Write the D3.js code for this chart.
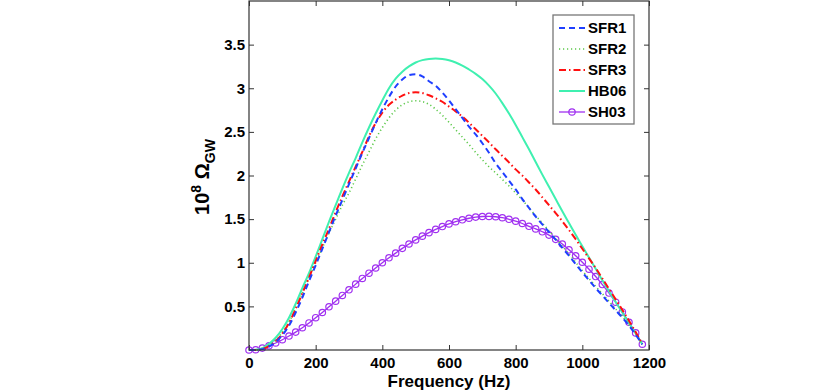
<!DOCTYPE html>
<html><head><meta charset="utf-8">
<script src="https://cdn.jsdelivr.net/npm/d3@7/dist/d3.min.js"></script>
<style>
html,body{margin:0;padding:0;background:#fff;}
svg{display:block;}
text{font-family:"Liberation Sans",Arial,Helvetica,sans-serif;font-weight:bold;}
</style></head>
<body><svg id="c" width="830" height="390"></svg>
<script>
// ---- data ----
const freq = [0,20,40,60,80,100,120,140,160,180,200,220,240,260,280,300,320,340,360,380,400,420,440,460,480,500,520,540,560,580,600,620,640,660,680,700,720,740,760,780,800,820,840,860,880,900,920,940,960,980,1000,1020,1040,1060,1080,1100,1120,1140,1160,1180];
const sfr1 = [0,0.001,0.01,0.04,0.09,0.17,0.28,0.43,0.6,0.79,0.97,1.16,1.35,1.54,1.72,1.9,2.08,2.26,2.43,2.6,2.76,2.9,3.02,3.1,3.15,3.16,3.135,3.08,3.03,2.95,2.86,2.76,2.66,2.56,2.47,2.37,2.26,2.14,2.04,1.94,1.84,1.73,1.63,1.53,1.44,1.35,1.265,1.17,1.08,0.985,0.89,0.8,0.71,0.625,0.54,0.455,0.37,0.28,0.175,0.065];
const sfr2 = [0,0.001,0.013,0.05,0.11,0.2,0.32,0.48,0.65,0.83,1.0,1.17,1.34,1.5,1.66,1.8,1.96,2.12,2.27,2.42,2.55,2.66,2.75,2.81,2.845,2.856,2.847,2.815,2.76,2.69,2.61,2.525,2.44,2.355,2.265,2.18,2.1,2.03,1.955,1.88,1.8,1.72,1.63,1.54,1.455,1.365,1.28,1.19,1.1,1.005,0.91,0.82,0.73,0.645,0.56,0.47,0.385,0.29,0.185,0.07];
const sfr3 = [0,0.001,0.012,0.045,0.1,0.19,0.31,0.47,0.65,0.83,1.02,1.21,1.39,1.58,1.76,1.93,2.1,2.27,2.45,2.6,2.72,2.81,2.87,2.915,2.945,2.955,2.945,2.92,2.885,2.845,2.79,2.735,2.675,2.605,2.53,2.455,2.38,2.3,2.225,2.15,2.07,2.0,1.92,1.84,1.75,1.66,1.57,1.475,1.375,1.27,1.16,1.05,0.94,0.82,0.7,0.58,0.46,0.335,0.205,0.07];
const hb06 = [0,0.003,0.02,0.07,0.14,0.24,0.37,0.53,0.71,0.88,1.07,1.27,1.47,1.66,1.85,2.03,2.2,2.38,2.55,2.71,2.86,3.0,3.11,3.19,3.25,3.295,3.322,3.336,3.34,3.335,3.32,3.295,3.26,3.215,3.165,3.105,3.03,2.94,2.83,2.71,2.58,2.44,2.3,2.155,2.01,1.87,1.73,1.59,1.455,1.32,1.19,1.06,0.93,0.8,0.675,0.55,0.43,0.31,0.19,0.065];
const sh03 = [0,0.003,0.022,0.048,0.08,0.118,0.16,0.205,0.255,0.31,0.37,0.43,0.495,0.56,0.625,0.69,0.755,0.82,0.88,0.94,1.0,1.057,1.11,1.165,1.215,1.262,1.305,1.345,1.382,1.415,1.445,1.47,1.492,1.51,1.523,1.53,1.531,1.527,1.516,1.498,1.477,1.45,1.418,1.388,1.355,1.317,1.268,1.214,1.148,1.08,1.006,0.926,0.842,0.75,0.653,0.548,0.436,0.318,0.196,0.066];
const seriesNames = ["SFR1","SFR2","SFR3","HB06","SH03"];
const xTicks = [0,200,400,600,800,1000,1200];
const yTicks = [0.5,1,1.5,2,2.5,3,3.5];

// ---- layout ----
const L=249, R=649, T=1, B=350;
const svg=d3.select("#c");
const x=d3.scaleLinear().domain([0,1200]).range([L,R]);
const y=d3.scaleLinear().domain([0,4]).range([B,T]);

const styles = {
  SFR1:{color:"#1f3fff",dash:"6,4",w:2},
  SFR2:{color:"#5cc84a",dash:"1.2,2.8",w:1.6},
  SFR3:{color:"#ff1010",dash:"7,3,1.5,3",w:2},
  HB06:{color:"#3ff0b0",dash:null,w:2},
  SH03:{color:"#a030f0",dash:null,w:1.3}
};
const dataMap={SFR1:sfr1,SFR2:sfr2,SFR3:sfr3,HB06:hb06,SH03:sh03};

// axes (inward ticks, box)
const gx=svg.append("g").attr("transform",`translate(0,${B})`)
  .call(d3.axisBottom(x).tickValues(xTicks).tickSizeInner(-5).tickSizeOuter(0).tickPadding(7.5).tickFormat(d3.format("d")));
const gxt=svg.append("g").attr("transform",`translate(0,${T})`)
  .call(d3.axisTop(x).tickValues(xTicks).tickSizeInner(-5).tickSizeOuter(0).tickFormat(""));
const gy=svg.append("g").attr("transform",`translate(${L},0)`)
  .call(d3.axisLeft(y).tickValues(yTicks).tickSizeInner(-5).tickSizeOuter(0).tickPadding(4).tickFormat(d3.format("")));
const gyr=svg.append("g").attr("transform",`translate(${R},0)`)
  .call(d3.axisRight(y).tickValues(yTicks).tickSizeInner(-5).tickSizeOuter(0).tickFormat(""));
[gx,gxt,gy,gyr].forEach(g=>{
  g.select(".domain").remove();
  g.selectAll("line").attr("stroke","#333");
  g.selectAll("text").attr("font-size",15).attr("font-weight","bold").attr("fill","#000")
   .attr("font-family","'Liberation Sans',Arial,sans-serif");
});

// lines
const line=d3.line().x((d,i)=>x(freq[i])).y(d=>y(d)).curve(d3.curveMonotoneX);
const plot=svg.append("g");
["SH03","HB06","SFR2","SFR3","SFR1"].forEach(n=>{
  const s=styles[n];
  plot.append("path").datum(dataMap[n]).attr("d",line).attr("fill","none")
    .attr("stroke",s.color).attr("stroke-width",s.w)
    .attr("stroke-dasharray",s.dash);
  if(n==="SH03"){
    plot.selectAll(".mk").data(sh03).enter().append("circle")
      .attr("cx",(d,i)=>x(freq[i])).attr("cy",d=>y(d)).attr("r",3.2)
      .attr("fill","none").attr("stroke",s.color).attr("stroke-width",1.2);
  }
});

// box
svg.append("rect").attr("x",L).attr("y",T).attr("width",R-L).attr("height",B-T)
  .attr("fill","none").attr("stroke","#333").attr("stroke-width",1.2);

// legend
const lg=svg.append("g");
lg.append("rect").attr("x",553).attr("y",15).attr("width",81).attr("height",109)
  .attr("fill","#fff").attr("stroke","#777").attr("stroke-width",1.3);
const ly=d3.scalePoint().domain(seriesNames).range([28,112]);
seriesNames.forEach(n=>{
  const s=styles[n], yy=ly(n);
  lg.append("line").attr("x1",559).attr("x2",585).attr("y1",yy).attr("y2",yy)
    .attr("stroke",s.color).attr("stroke-width",s.w).attr("stroke-dasharray",s.dash);
  if(n==="SH03") lg.append("circle").attr("cx",572).attr("cy",yy).attr("r",3.2)
    .attr("fill","none").attr("stroke",s.color).attr("stroke-width",1.2);
  lg.append("text").attr("x",588).attr("y",yy).attr("dy","0.36em")
    .attr("font-size",15).text(n);
});

// axis labels
svg.append("text").attr("x",(L+R)/2).attr("y",386.5).attr("text-anchor","middle")
  .attr("font-size",17).text("Frequency (Hz)");
const yl=svg.append("text").attr("transform","translate(209,177) rotate(-90)")
  .attr("text-anchor","middle").attr("font-size",20);
yl.append("tspan").text("10");
yl.append("tspan").attr("dy",-8).attr("font-size",14).text("8");
yl.append("tspan").attr("dy",8).text(" Ω");
yl.append("tspan").attr("dy",6).attr("font-size",14).text("GW");
</script></body></html>
